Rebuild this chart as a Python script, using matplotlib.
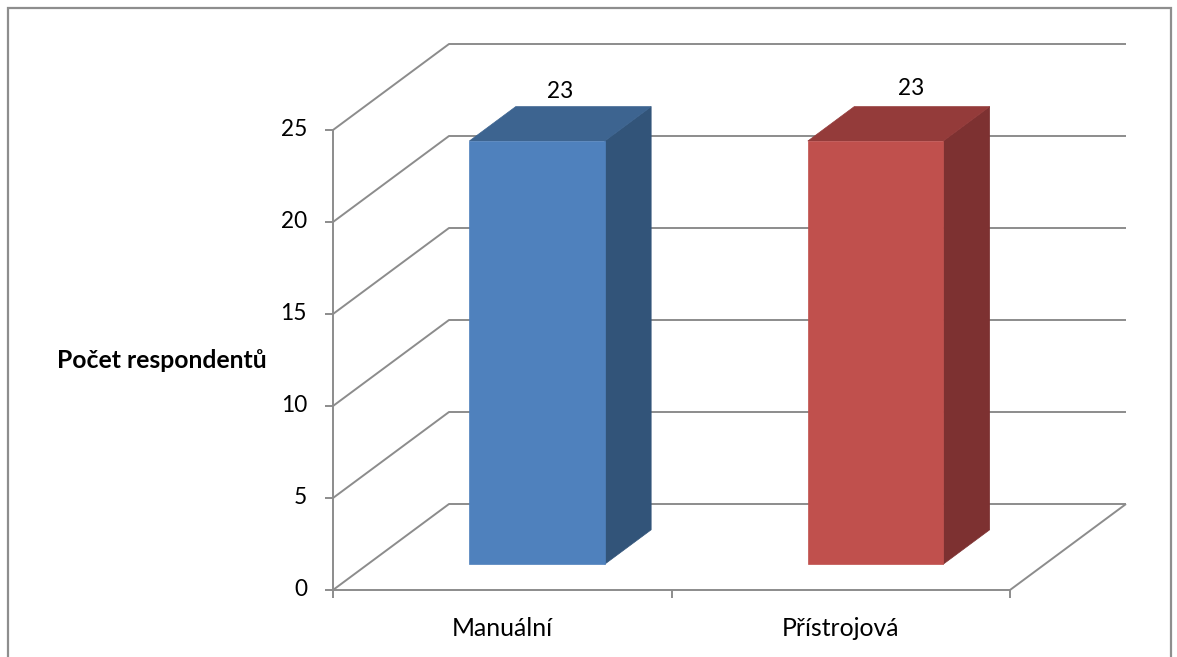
import matplotlib
matplotlib.use("Agg")
import matplotlib.pyplot as plt
from matplotlib.patches import Polygon, Rectangle

plt.rcParams['font.family'] = ['Lato', 'DejaVu Sans']

# Data
categories = ["Manuální", "Přístrojová"]
values = [23, 23]
y_ticks = [0, 5, 10, 15, 20, 25]
y_title = "Počet respondentů"

front_colors = ["#4F81BD", "#C0504D"]
top_colors = ["#3D6490", "#943B3A"]
side_colors = ["#325479", "#7D3131"]
grid_color = "#8C8C8C"

W, H, DPI = 1177, 657, 100
fig = plt.figure(figsize=(W / DPI, H / DPI), dpi=DPI)

# Front plane of the chart box in pixels
px_left, px_right = 333, 1010
px_bottom, px_top = 590, 130
ax = fig.add_axes([px_left / W, 1 - px_bottom / H,
                   (px_right - px_left) / W, (px_bottom - px_top) / H])
ncat = len(categories)
vmax = y_ticks[-1]
ax.set_xlim(0, ncat)
ax.set_ylim(0, vmax)
ax.axis("off")

# Oblique depth vector, expressed in data units
x_per_px = ncat / (px_right - px_left)
v_per_px = vmax / (px_bottom - px_top)
DX = 116 * x_per_px
DY = 86 * v_per_px


def proj(x, v, d):
    return (x + d * DX, v + d * DY)


lw = 1.4
kw = dict(color=grid_color, lw=lw, clip_on=False, solid_capstyle="butt")
num_size = 16.3
text_size = 17.8

# Back wall gridlines and side wall diagonals
for t in y_ticks:
    x0, y0 = proj(0, t, 0)
    x1, y1 = proj(0, t, 1)
    x2, y2 = proj(ncat, t, 1)
    ax.plot([x0, x1, x2], [y0, y1, y2], zorder=1, **kw)
    # tick mark
    ax.plot([-8 * x_per_px, 0], [t, t], zorder=1, **kw)
    ax.text(-26 * x_per_px, t, str(t), ha="right", va="center",
            fontsize=num_size, color="black")

# Floor outline: right diagonal
fx0, fy0 = proj(ncat, 0, 0)
fx1, fy1 = proj(ncat, 0, 1)
ax.plot([fx0, fx1], [fy0, fy1], zorder=1, **kw)

# Front axis lines and category ticks
ax.plot([0, 0], [0, vmax], zorder=4, **kw)
ax.plot([0, ncat], [0, 0], zorder=4, **kw)
for i in range(ncat + 1):
    ax.plot([i, i], [0, -8 * v_per_px], zorder=4, **kw)

# 3D bars
bar_w = 0.4
d0, d1 = 0.30, 0.70
for i, (val, fc, tc, sc) in enumerate(zip(values, front_colors, top_colors, side_colors)):
    xl = i + 0.5 - bar_w / 2
    xr = i + 0.5 + bar_w / 2
    front = [proj(xl, 0, d0), proj(xr, 0, d0), proj(xr, val, d0), proj(xl, val, d0)]
    top = [proj(xl, val, d0), proj(xr, val, d0), proj(xr, val, d1), proj(xl, val, d1)]
    side = [proj(xr, 0, d0), proj(xr, 0, d1), proj(xr, val, d1), proj(xr, val, d0)]
    for poly, c in ((side, sc), (top, tc), (front, fc)):
        ax.add_patch(Polygon(poly, closed=True, facecolor=c, edgecolor=c,
                             lw=0.5, zorder=3, clip_on=False))
    lx, ly = proj(i + 0.5, val, 0.5)
    ax.annotate(str(val), (lx, ly), xytext=(0 + 12 * i, 22 + 3 * i),
                textcoords="offset pixels", ha="center", va="bottom",
                fontsize=num_size, color="black", annotation_clip=False)
    ax.text(i + 0.5, -38 * v_per_px, categories[i], ha="center", va="center",
            fontsize=text_size, color="black")

# Axis title
fig.text(162 / W, 1 - 361 / H, y_title, ha="center", va="center",
         fontsize=text_size, fontweight="bold", color="black")

# Chart area border
fig.patches.append(Rectangle((8 / W, -0.05), (1171 - 8) / W, 1 - 8 / H + 0.05,
                             transform=fig.transFigure, fill=False,
                             edgecolor="#8E8E8E", lw=1.6))

fig.savefig("out.png", dpi=DPI)
